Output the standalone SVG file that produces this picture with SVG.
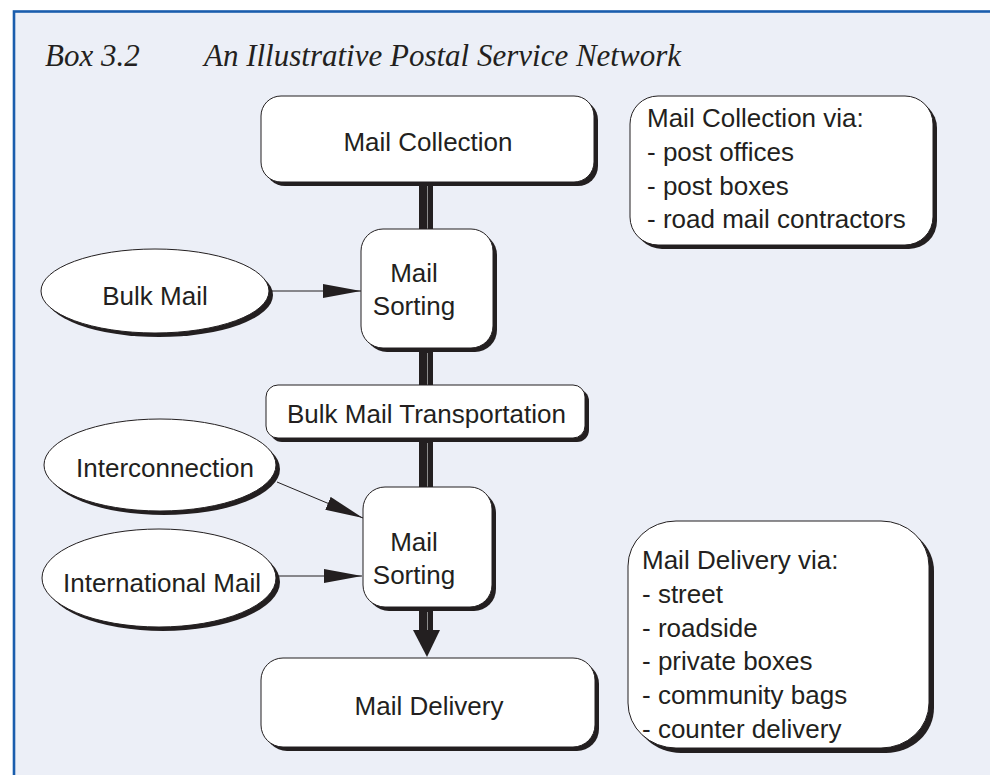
<svg xmlns="http://www.w3.org/2000/svg" width="990" height="775" viewBox="0 0 990 775">
<defs>
<style>
.bg{fill:#ECEFF7;stroke:#1A5DAD;stroke-width:2.6}
.title{font-family:"Liberation Serif","Times New Roman",serif;font-style:italic;font-size:31px;fill:#231F20}
.lbl{font-family:"Liberation Sans",Arial,sans-serif;font-size:26px;fill:#231F20}
.box{fill:#FFFFFF;stroke:#231F20;stroke-width:1}
.shadow{fill:#231F20}
.thin{stroke:#231F20;stroke-width:1;fill:none}
.bar{fill:#231F20}
.barline{stroke:#8C8C8C;stroke-width:1}
</style>
<marker id="ah" viewBox="0 0 38 14" refX="38" refY="7" markerWidth="38" markerHeight="14" markerUnits="userSpaceOnUse" orient="auto">
<path d="M0,0 L38,7 L0,14 Z" fill="#231F20"/>
</marker>
</defs>

<rect class="bg" x="14" y="11.5" width="990" height="780"/>

<g id="title">
<text class="title" x="45" y="66">Box 3.2</text>
<text class="title" x="204" y="66">An Illustrative Postal Service Network</text>
</g>

<g id="connectors">
<rect class="bar" x="419" y="182" width="14" height="48"/>
<line class="barline" x1="427.5" y1="184" x2="427.5" y2="229"/>
<rect class="bar" x="419" y="348" width="14" height="38"/>
<line class="barline" x1="427.5" y1="353" x2="427.5" y2="385"/>
<rect class="bar" x="419" y="438" width="14" height="50"/>
<line class="barline" x1="427.5" y1="443" x2="427.5" y2="487"/>
<rect class="bar" x="419" y="607" width="14" height="25"/>
<line class="barline" x1="427.5" y1="612" x2="427.5" y2="630"/>
<polygon class="bar" points="413,630 440,630 427,657"/>
<line class="thin" x1="270" y1="291" x2="361" y2="291" marker-end="url(#ah)"/>
<line class="thin" x1="277" y1="482" x2="363" y2="518" marker-end="url(#ah)"/>
<line class="thin" x1="277" y1="576" x2="362" y2="576" marker-end="url(#ah)"/>
</g>

<g id="mail-collection">
<rect class="shadow" x="265" y="100" width="333" height="86" rx="20"/>
<rect class="box" x="261" y="96" width="333" height="86" rx="20"/>
<text class="lbl" x="428" y="151" text-anchor="middle">Mail Collection</text>
</g>

<g id="collection-via">
<rect class="shadow" x="634" y="100" width="303" height="149" rx="28"/>
<rect class="box" x="630" y="96" width="303" height="149" rx="28"/>
<text class="lbl" x="647" y="127">Mail Collection via:</text>
<text class="lbl" x="647" y="161">- post offices</text>
<text class="lbl" x="647" y="195">- post boxes</text>
<text class="lbl" x="647" y="228">- road mail contractors</text>
</g>

<g id="bulk-mail">
<ellipse class="shadow" cx="159" cy="295" rx="114" ry="42"/>
<ellipse class="box" cx="155" cy="291" rx="114" ry="42"/>
<text class="lbl" x="155" y="305" text-anchor="middle">Bulk Mail</text>
</g>

<g id="mail-sorting-1">
<rect class="shadow" x="365" y="233" width="132" height="119" rx="22"/>
<rect class="box" x="361" y="229" width="132" height="119" rx="22"/>
<text class="lbl" x="414" y="282" text-anchor="middle">Mail</text>
<text class="lbl" x="414" y="315" text-anchor="middle">Sorting</text>
</g>

<g id="bulk-transport">
<rect class="shadow" x="270" y="389" width="319" height="53" rx="12"/>
<rect class="box" x="266" y="385" width="319" height="53" rx="12"/>
<text class="lbl" x="287" y="423">Bulk Mail Transportation</text>
</g>

<g id="interconnection">
<ellipse class="shadow" cx="164" cy="469" rx="116" ry="46"/>
<ellipse class="box" cx="160" cy="465" rx="116" ry="46"/>
<text class="lbl" x="165" y="477" text-anchor="middle">Interconnection</text>
</g>

<g id="international-mail">
<ellipse class="shadow" cx="163" cy="582" rx="117" ry="49"/>
<ellipse class="box" cx="159" cy="578" rx="117" ry="49"/>
<text class="lbl" x="162" y="592" text-anchor="middle">International Mail</text>
</g>

<g id="mail-sorting-2">
<rect class="shadow" x="367" y="491" width="129" height="120" rx="22"/>
<rect class="box" x="363" y="487" width="129" height="120" rx="22"/>
<text class="lbl" x="414" y="551" text-anchor="middle">Mail</text>
<text class="lbl" x="414" y="584" text-anchor="middle">Sorting</text>
</g>

<g id="mail-delivery">
<rect class="shadow" x="265" y="662" width="334" height="89" rx="22"/>
<rect class="box" x="261" y="658" width="334" height="89" rx="22"/>
<text class="lbl" x="429" y="715" text-anchor="middle">Mail Delivery</text>
</g>

<g id="delivery-via">
<rect class="shadow" x="633" y="526" width="301" height="227" rx="48" ry="45"/>
<rect class="box" x="628" y="521" width="301" height="227" rx="48" ry="45"/>
<text class="lbl" x="642" y="569">Mail Delivery via:</text>
<text class="lbl" x="642" y="603">- street</text>
<text class="lbl" x="642" y="637">- roadside</text>
<text class="lbl" x="642" y="670">- private boxes</text>
<text class="lbl" x="642" y="704">- community bags</text>
<text class="lbl" x="642" y="738">- counter delivery</text>
</g>
</svg>
